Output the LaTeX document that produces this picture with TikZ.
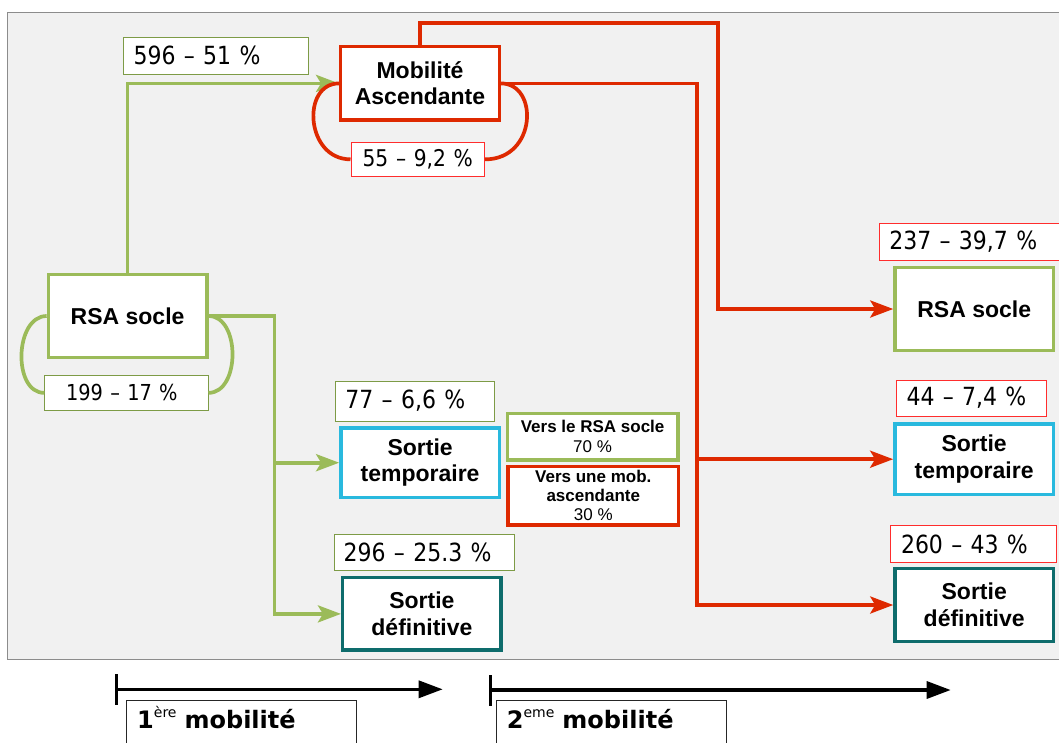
\documentclass[tikz,border=0pt]{standalone}
\usepackage{fontspec}
\setmainfont{Liberation Sans}
\newfontfamily\numfont[FakeStretch=0.88]{DejaVu Sans}
\newfontfamily\tlfont{DejaVu Sans}
\usetikzlibrary{arrows.meta}
\definecolor{gcol}{RGB}{155,187,89}
\definecolor{rcol}{RGB}{222,41,0}
\definecolor{bcol}{RGB}{41,185,222}
\definecolor{tcol}{RGB}{14,108,108}
\definecolor{lgcol}{RGB}{125,155,70}
\definecolor{lrcol}{RGB}{255,45,45}
\definecolor{panelbg}{RGB}{241,241,241}
\definecolor{panelbd}{RGB}{140,140,140}
\tikzset{
  mainbox/.style={draw, line width=3.4pt, fill=white, minimum width=158.5pt, align=center,
    font=\fontsize{23}{26.5}\selectfont\bfseries, inner sep=0pt},
  smallbox/.style={draw, line width=3.4pt, fill=white, minimum width=170.5pt, align=center,
    font=\fontsize{17}{20}\selectfont, inner sep=0pt},
  numlbl/.style={draw, line width=1pt, fill=white, font=\numfont\fontsize{25}{28}\selectfont,
    inner ysep=0pt, align=left},
  gline/.style={draw=gcol, line width=3.7pt},
  rline/.style={draw=rcol, line width=3.7pt},
  arrowed/.style={-{Stealth[length=23pt,width=17pt,inset=5pt]}},
  timeline/.style={draw=black, line width=3.3pt,
    {Bar[width=31pt]}-{Triangle[length=24pt,width=17pt]}},
  mobbox/.style={draw=black!85, line width=1pt, fill=white, anchor=north west,
    inner xsep=10.7pt, inner ysep=8pt, text height=20pt, text depth=40pt,
    text width=208.6pt, align=left, font=\tlfont\fontsize{24}{28}\selectfont\bfseries}
}
\begin{document}
\begin{tikzpicture}[x=1pt,y=-1pt]
\useasboundingbox (0,0) rectangle (1059,742);
\clip (0,0) rectangle (1059,742);
\fill[white] (0,0) rectangle (1059,742);
% panel
\draw[draw=panelbd, fill=panelbg, line width=1pt] (7.5,12.5) rectangle (1075,659.5);

% main boxes
\node[mainbox, draw=rcol, minimum height=73.5pt] (mob) at (420,83.4) {Mobilité\\Ascendante};
\node[mainbox, draw=gcol, minimum height=83.5pt] (rsa1) at (127.6,316) {RSA socle};
\node[mainbox, draw=bcol, minimum height=69.5pt] (st1) at (420.1,462.7) {Sortie\\temporaire};
\node[mainbox, draw=tcol, minimum height=72.5pt] (sd1) at (421.9,613.9) {Sortie\\définitive};
\node[mainbox, draw=gcol, minimum height=83.5pt] (rsa2) at (974.2,309) {RSA socle};
\node[mainbox, draw=bcol, minimum height=70.5pt] (st2) at (974.1,459.2) {Sortie\\temporaire};
\node[mainbox, draw=tcol, minimum height=73.5pt] (sd2) at (974.2,605) {Sortie\\définitive};

% small boxes
\node[smallbox, draw=gcol, minimum height=46.5pt] (vrs) at (592.6,436.7) {\textbf{Vers le RSA socle}\\70 \%};
\node[smallbox, draw=rcol, minimum height=58.5pt, font=\fontsize{17}{19}\selectfont] (vmob) at (593.3,495.9)
  {\textbf{Vers une mob.}\\\textbf{ascendante}\\30 \%};

% number labels
\node[numlbl, draw=lgcol, minimum height=36.7pt, inner xsep=10.3pt, text width=165pt] (l596) at (216.1,55.65) {596 – 51 \%};
\node[numlbl, draw=lrcol, minimum height=33.3pt, inner xsep=5pt, text width=123.5pt, align=center,
  font=\numfont\fontsize{23}{26}\selectfont] (l55) at (417.75,159.35) {55 – 9,2 \%};
\node[numlbl, draw=lgcol, minimum height=34.3pt, inner xsep=21.2pt, text width=120.8pt,
  font=\numfont\fontsize{22}{26}\selectfont] (l199) at (126.4,392.85) {199 – 17 \%};
\node[numlbl, draw=lgcol, minimum height=40pt, inner xsep=9.7pt, text width=139pt] (l77) at (414.9,401) {77 – 6,6 \%};
\node[numlbl, draw=lgcol, minimum height=36.7pt, inner xsep=9.7pt, text width=160.6pt] (l296) at (424,552.35) {296 – 25.3 \%};
\node[numlbl, draw=lrcol, minimum height=36.7pt, inner xsep=10pt, text width=175.7pt] (l237) at (977.15,241.65) {237 – 39,7 \%};
\node[numlbl, draw=lrcol, minimum height=36pt, inner xsep=10pt, text width=130.3pt] (l44) at (971.65,398) {44 – 7,4 \%};
\node[numlbl, draw=lrcol, minimum height=36.6pt, inner xsep=10.4pt, text width=145.4pt] (l260) at (973.7,544) {260 – 43 \%};

% green connectors
\coordinate (gx) at (274.4,0);
\draw[gline, arrowed] (rsa1.north) |- (mob.west);
\draw[gline, arrowed] (rsa1.east) -| (gx |- sd1.west) -- (sd1.west);
\draw[gline, arrowed] (gx |- st1.west) -- (st1.west);
% green loop
\draw[gline] (rsa1.west) .. controls +(-32,0) and +(-32,0) .. (l199.west);
\draw[gline] (rsa1.east) .. controls +(32,0) and +(32,0) .. (l199.east);

% red connectors
\coordinate (rtop) at (718.3,23.3);
\coordinate (rx) at (697.1,0);
\draw[rline, arrowed] (mob.north) |- (rtop) |- (rsa2.west);
\draw[rline, arrowed] (mob.east) -| (rx |- sd2.west) -- (sd2.west);
\draw[rline, arrowed] (rx |- st2.west) -- (st2.west);
% red loop
\draw[rline] (mob.west) .. controls +(-38,0) and +(-45,0) .. (l55.west);
\draw[rline] (mob.east) .. controls +(38,0) and +(52,0) .. (l55.east);

% timelines
\coordinate (t1a) at (115,689.3);
\coordinate (t1b) at (442.7,689.3);
\coordinate (t2a) at (489,690);
\coordinate (t2b) at (950.7,690);
\draw[timeline] (t1a) -- (t1b);
\draw[timeline] (t2a) -- (t2b);
\node[mobbox] (m1) at (126,700) {1\raisebox{11.5pt}{\fontsize{14}{14}\selectfont\mdseries ère} mobilité};
\node[mobbox] (m2) at (495.7,700) {2\raisebox{11.5pt}{\fontsize{14}{14}\selectfont\mdseries eme} mobilité};
\end{tikzpicture}
\end{document}
